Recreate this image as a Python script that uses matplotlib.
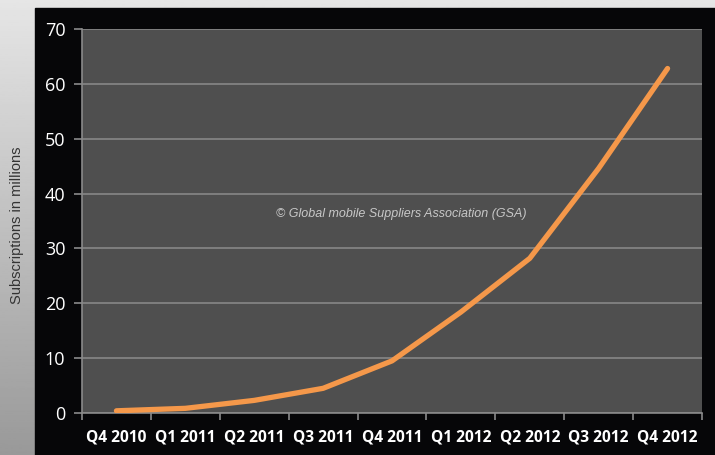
import numpy as np
import matplotlib.pyplot as plt
from matplotlib.patches import Rectangle

quarters = ['Q4 2010', 'Q1 2011', 'Q2 2011', 'Q3 2011', 'Q4 2011',
            'Q1 2012', 'Q2 2012', 'Q3 2012', 'Q4 2012']
subs = [0.4, 0.85, 2.3, 4.5, 9.5, 18.4, 28.2, 44.6, 62.8]
yticks = [0, 10, 20, 30, 40, 50, 60, 70]

fig = plt.figure(figsize=(7.15, 4.55), dpi=100)

# grey gradient backdrop + black panel
bg = fig.add_axes([0, 0, 1, 1])
grad = np.linspace(0.9, 0.6, 256).reshape(-1, 1)
bg.imshow(grad, aspect='auto', cmap='gray', vmin=0, vmax=1, extent=[0, 1, 0, 1])
bg.add_patch(Rectangle((35 / 715, 0), 1, 1 - 8 / 455, color='#060608', transform=bg.transAxes))
bg.set_xlim(0, 1)
bg.set_ylim(0, 1)
bg.axis('off')

ax = fig.add_axes([82 / 715, 1 - 413 / 455, 620 / 715, 384 / 455])
ax.set_facecolor('#4f4f4f')
x = np.arange(len(quarters))
ax.plot(x, subs, color='#f5984a', lw=3.8, solid_capstyle='round', solid_joinstyle='round', zorder=3)

ax.set_xlim(-0.5, len(quarters) - 0.5)
ax.set_ylim(0, 70)
ax.set_yticks(yticks)
ax.set_xticks(x)
ax.set_xticklabels(quarters, fontsize=11.2, fontweight='bold', family='Open Sans', color='white')
ax.set_xticks(np.arange(-0.5, len(quarters)), minor=True)
ax.tick_params(axis='x', which='major', length=0, pad=12)
ax.tick_params(axis='x', which='minor', length=5, color='#8a8a8a', width=1.2)
ax.tick_params(axis='y', length=6, color='#8a8a8a', width=1.2, labelcolor='white', labelsize=13, pad=6)
for lab in ax.get_yticklabels():
    lab.set_family('Open Sans')

ax.grid(axis='y', color='#878787', lw=1.2)
ax.set_axisbelow(True)
for s in ['top', 'right']:
    ax.spines[s].set_visible(False)
for s in ['left', 'bottom']:
    ax.spines[s].set_color('#8a8a8a')
    ax.spines[s].set_linewidth(1.2)

ax.text(4.14, 36.2, '\u00a9 Global mobile Suppliers Association (GSA)', ha='center', va='center',
        fontsize=9, style='italic', family='Liberation Sans', color='#c8c8c8')

fig.text(17 / 715, 1 - 225 / 455, 'Subscriptions in millions', rotation=90, ha='center', va='center',
         fontsize=10.5, family='Liberation Sans', color='#333333')

fig.savefig('out.png', dpi=100)
